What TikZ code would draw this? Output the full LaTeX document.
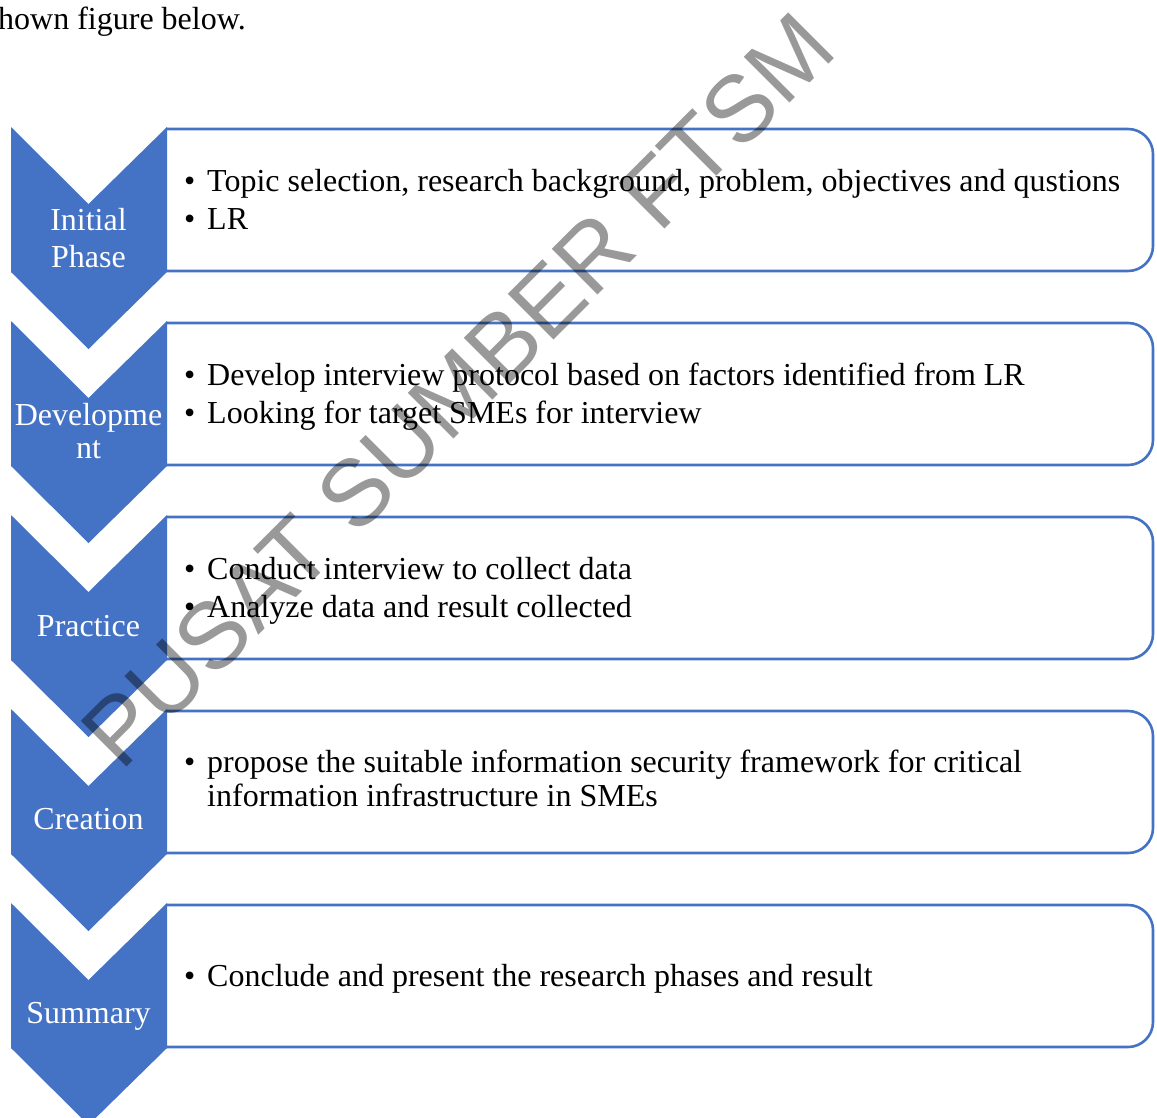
\documentclass[tikz,border=0pt]{standalone}
\usepackage{fontspec}
\setmainfont{Liberation Serif}
\newfontfamily\wmfont{Liberation Sans}
\definecolor{phaseblue}{HTML}{4472C4}
\begin{document}
\begin{tikzpicture}[x=1pt,y=-1pt,
  chev/.style={fill=phaseblue,draw=none},
  stagebox/.style={draw=phaseblue,line width=2.6pt,fill=white},
  lab/.style={text=white,font=\fontsize{32}{36}\selectfont,inner sep=0pt,anchor=base},
  itm/.style={font=\fontsize{32}{38}\selectfont,inner sep=0pt,anchor=base west},
  bul/.style={font=\fontsize{32}{38}\selectfont,inner sep=0pt,anchor=base west}]
\useasboundingbox (0,0) rectangle (1157,1117);
\begin{scope}
\clip (0,0) rectangle (1157,1117);

% caption fragment above the figure
\node[itm] (cap) at (-2,29) {hown figure below.};

% one stage: right-hand box, then the down-pointing chevron over its left end
\foreach \i in {0,...,4}{
  \pgfmathsetmacro{\t}{127+194*\i}
  \draw[stagebox] (166,\t+2) [rounded corners=25pt] -- (1153,\t+2)
     -- (1153,\t+144) [sharp corners] -- (166,\t+144);
  \fill[chev] (11,\t) -- (88.5,\t+77) -- (167,\t) -- (167,\t+145)
     -- (88.5,\t+222) -- (11,\t+145) -- cycle;
}

% chevron labels
\node[lab] (l1a) at (88.5,230) {Initial};
\node[lab] (l1b) at (88.5,267) {Phase};
\node[lab] (l2a) at (88.5,425) {Developme};
\node[lab] (l2b) at (88.5,458) {nt};
\node[lab] (l3)  at (88.5,636) {Practice};
\node[lab] (l4)  at (88.5,829) {Creation};
\node[lab] (l5)  at (88.5,1023) {Summary};

% box contents
\foreach \y/\txt [count=\k] in {
  191/{Topic selection, research background, problem, objectives and qustions},
  229/{LR},
  385/{Develop interview protocol based on factors identified from LR},
  423/{Looking for target SMEs for interview},
  579/{Conduct interview to collect data},
  617/{Analyze data and result collected},
  772/{propose the suitable information security framework for critical},
  986/{Conclude and present the research phases and result}}{
  \node[bul] (b\k) at (184,\y) {•};
  \node[itm] (t\k) at (207,\y) {\txt};
}
\node[itm] (t9) at (207,806) {information infrastructure in SMEs};

% watermark
\node[font=\wmfont\fontsize{94}{94}\selectfont,text=black,text opacity=0.4,
      rotate=45,inner sep=0pt] (wm) at (458,390) {PUSAT SUMBER FTSM};
\end{scope}
\end{tikzpicture}
\end{document}
